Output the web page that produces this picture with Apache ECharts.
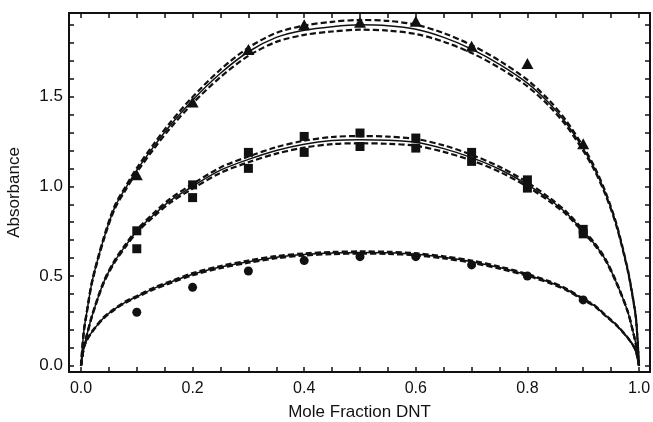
<!DOCTYPE html>
<html>
<head>
<meta charset="utf-8">
<script src="https://cdn.jsdelivr.net/npm/echarts@6/dist/echarts.min.js"></script>
<style>
html,body{margin:0;padding:0;background:#fff;}
#chart{width:653px;height:422px;}
</style>
</head>
<body>
<div id="chart"></div>
<script>
// Curve sample positions (mole fraction)
var curveX = [0, 0.005, 0.01, 0.02, 0.04, 0.06, 0.08, 0.1, 0.13, 0.16, 0.2, 0.25, 0.3, 0.35, 0.4, 0.45, 0.5, 0.55, 0.6, 0.65, 0.7, 0.75, 0.8, 0.84, 0.87, 0.9, 0.92, 0.94, 0.96, 0.98, 0.99, 0.995, 1];

// Top fit (triangles)
var topFit   = [0, 0.19, 0.29, 0.47, 0.70, 0.88, 0.99, 1.09, 1.22, 1.34, 1.48, 1.63, 1.75, 1.83, 1.87, 1.89, 1.90, 1.895, 1.875, 1.83, 1.765, 1.68, 1.575, 1.46, 1.35, 1.21, 1.10, 0.96, 0.78, 0.53, 0.36, 0.25, 0];
var topUpper = [0, 0.193, 0.294, 0.475, 0.707, 0.889, 1.000, 1.102, 1.234, 1.356, 1.498, 1.651, 1.773, 1.855, 1.896, 1.917, 1.927, 1.922, 1.901, 1.854, 1.787, 1.700, 1.593, 1.476, 1.364, 1.222, 1.110, 0.968, 0.786, 0.534, 0.363, 0.252, 0];
var topLower = [0, 0.187, 0.286, 0.465, 0.693, 0.871, 0.980, 1.078, 1.206, 1.324, 1.462, 1.609, 1.727, 1.805, 1.844, 1.863, 1.873, 1.868, 1.849, 1.806, 1.743, 1.660, 1.557, 1.444, 1.336, 1.198, 1.090, 0.952, 0.774, 0.526, 0.357, 0.248, 0];

// Middle fit (squares)
var midFit   = [0, 0.10, 0.165, 0.28, 0.46, 0.58, 0.67, 0.75, 0.84, 0.92, 1.00, 1.09, 1.15, 1.20, 1.235, 1.255, 1.26, 1.257, 1.245, 1.21, 1.16, 1.095, 1.01, 0.925, 0.85, 0.75, 0.68, 0.59, 0.46, 0.30, 0.18, 0.11, 0];
var midUpper = [0, 0.102, 0.168, 0.284, 0.465, 0.586, 0.677, 0.758, 0.850, 0.931, 1.013, 1.105, 1.166, 1.218, 1.254, 1.275, 1.280, 1.277, 1.264, 1.228, 1.176, 1.109, 1.022, 0.935, 0.858, 0.757, 0.686, 0.595, 0.464, 0.302, 0.181, 0.111, 0];
var midLower = [0, 0.098, 0.162, 0.276, 0.455, 0.574, 0.663, 0.742, 0.830, 0.909, 0.987, 1.075, 1.134, 1.182, 1.216, 1.235, 1.240, 1.237, 1.226, 1.192, 1.144, 1.081, 0.998, 0.915, 0.842, 0.743, 0.674, 0.585, 0.456, 0.298, 0.179, 0.109, 0];

// Bottom fit (circles)
var lowFit   = [0, 0.10, 0.14, 0.19, 0.265, 0.315, 0.355, 0.385, 0.43, 0.465, 0.51, 0.55, 0.58, 0.605, 0.62, 0.628, 0.631, 0.629, 0.621, 0.604, 0.58, 0.547, 0.506, 0.465, 0.425, 0.37, 0.335, 0.28, 0.225, 0.155, 0.11, 0.075, 0];
var lowUpper = [0, 0.101, 0.141, 0.192, 0.268, 0.318, 0.359, 0.389, 0.435, 0.470, 0.516, 0.556, 0.586, 0.611, 0.626, 0.634, 0.637, 0.635, 0.627, 0.610, 0.586, 0.553, 0.511, 0.470, 0.429, 0.374, 0.338, 0.283, 0.227, 0.156, 0.111, 0.076, 0];
var lowLower = [0, 0.099, 0.139, 0.188, 0.262, 0.312, 0.351, 0.381, 0.425, 0.460, 0.504, 0.544, 0.574, 0.599, 0.614, 0.622, 0.625, 0.623, 0.615, 0.598, 0.574, 0.541, 0.501, 0.460, 0.421, 0.366, 0.332, 0.277, 0.223, 0.154, 0.109, 0.074, 0];

// Measured points
var triX = [0.1, 0.2, 0.3, 0.4, 0.5, 0.6, 0.7, 0.8, 0.9];
var triY = [1.064, 1.47, 1.762, 1.90, 1.914, 1.92, 1.78, 1.684, 1.237];
var sqX  = [0.1, 0.1, 0.2, 0.2, 0.3, 0.3, 0.4, 0.4, 0.5, 0.5, 0.6, 0.6, 0.7, 0.7, 0.8, 0.8, 0.9, 0.9];
var sqY  = [0.752, 0.652, 1.008, 0.937, 1.189, 1.10, 1.278, 1.189, 1.297, 1.222, 1.269, 1.213, 1.189, 1.139, 1.036, 0.99, 0.76, 0.735];
var cirX = [0.1, 0.2, 0.3, 0.4, 0.5, 0.6, 0.7, 0.8, 0.9];
var cirY = [0.298, 0.437, 0.528, 0.586, 0.608, 0.608, 0.562, 0.50, 0.367];

// Axis ticks
var xTickLabels = [0, 0.2, 0.4, 0.6, 0.8, 1.0];
var xMinorTicks = [0, 0.05, 0.1, 0.15, 0.2, 0.25, 0.3, 0.35, 0.4, 0.45, 0.5, 0.55, 0.6, 0.65, 0.7, 0.75, 0.8, 0.85, 0.9, 0.95, 1.0];
var yTickLabels = [0, 0.5, 1.0, 1.5];
var yMinorTicks = [0, 0.1, 0.2, 0.3, 0.4, 0.5, 0.6, 0.7, 0.8, 0.9, 1.0, 1.1, 1.2, 1.3, 1.4, 1.5, 1.6, 1.7, 1.8, 1.9];

var X_MIN = -0.0215, X_MAX = 1.0197, Y_MIN = -0.035, Y_MAX = 1.966;

function pairs(xs, ys) { return xs.map(function (x, i) { return [x, ys[i]]; }); }

var ink = '#111111';
var fontFam = '"Liberation Sans", Arial, Helvetica, sans-serif';

function axisCommon(extra) {
  var base = {
    type: 'value',
    axisLine: { show: true, onZero: false, lineStyle: { color: ink, width: 2 } },
    splitLine: { show: false },
    minorTick: { show: false }
  };
  for (var k in extra) base[k] = extra[k];
  return base;
}

function solid(data) {
  return { type: 'line', data: data, showSymbol: false, smooth: 0.3, silent: true,
    lineStyle: { color: ink, width: 1.5, type: 'solid' }, z: 3 };
}
function dashed(data) {
  return { type: 'line', data: data, showSymbol: false, smooth: 0.3, silent: true,
    lineStyle: { color: ink, width: 2.2, type: [6, 3] }, z: 2 };
}

var chart = echarts.init(document.getElementById('chart'), null, { renderer: 'canvas' });
chart.setOption({
  animation: false,
  backgroundColor: '#ffffff',
  grid: { left: 69, right: 3, top: 13, bottom: 50, containLabel: false, outerBoundsMode: 'none' },
  xAxis: [
    axisCommon({
      position: 'bottom', min: X_MIN, max: X_MAX,
      name: 'Mole Fraction DNT', nameLocation: 'middle', nameGap: 32,
      nameTextStyle: { color: ink, fontSize: 17, fontFamily: fontFam },
      axisTick: { show: true, inside: true, length: 5, customValues: xMinorTicks, lineStyle: { color: ink, width: 1.5 } },
      axisLabel: { show: true, margin: 9, customValues: xTickLabels, color: ink, fontSize: 16, fontFamily: fontFam,
        formatter: function (v) { return Number(v).toFixed(1); } }
    }),
    axisCommon({
      position: 'top', min: X_MIN, max: X_MAX,
      axisTick: { show: true, inside: true, length: 5, customValues: xMinorTicks, lineStyle: { color: ink, width: 1.5 } },
      axisLabel: { show: false }
    })
  ],
  yAxis: [
    axisCommon({
      position: 'left', min: Y_MIN, max: Y_MAX,
      name: 'Absorbance', nameLocation: 'middle', nameGap: 46,
      nameTextStyle: { color: ink, fontSize: 17, fontFamily: fontFam },
      axisTick: { show: true, inside: true, length: 5, customValues: yMinorTicks, lineStyle: { color: ink, width: 1.5 } },
      axisLabel: { show: true, margin: 6, customValues: yTickLabels, color: ink, fontSize: 17, fontFamily: fontFam,
        formatter: function (v) { return Number(v).toFixed(1); } }
    }),
    axisCommon({
      position: 'right', min: Y_MIN, max: Y_MAX,
      axisTick: { show: true, inside: true, length: 5, customValues: yMinorTicks, lineStyle: { color: ink, width: 1.5 } },
      axisLabel: { show: false }
    })
  ],
  series: [
    dashed(pairs(curveX, topUpper)), dashed(pairs(curveX, topLower)), solid(pairs(curveX, topFit)),
    dashed(pairs(curveX, midUpper)), dashed(pairs(curveX, midLower)), solid(pairs(curveX, midFit)),
    dashed(pairs(curveX, lowUpper)), dashed(pairs(curveX, lowLower)), solid(pairs(curveX, lowFit)),
    { type: 'scatter', data: pairs(triX, triY), symbol: 'triangle', symbolSize: [12, 11], itemStyle: { color: ink, opacity: 1 }, z: 5 },
    { type: 'scatter', data: pairs(sqX, sqY), symbol: 'rect', symbolSize: 9, itemStyle: { color: ink, opacity: 1 }, z: 5 },
    { type: 'scatter', data: pairs(cirX, cirY), symbol: 'circle', symbolSize: 9, itemStyle: { color: ink, opacity: 1 }, z: 5 }
  ]
});
</script>
</body>
</html>
